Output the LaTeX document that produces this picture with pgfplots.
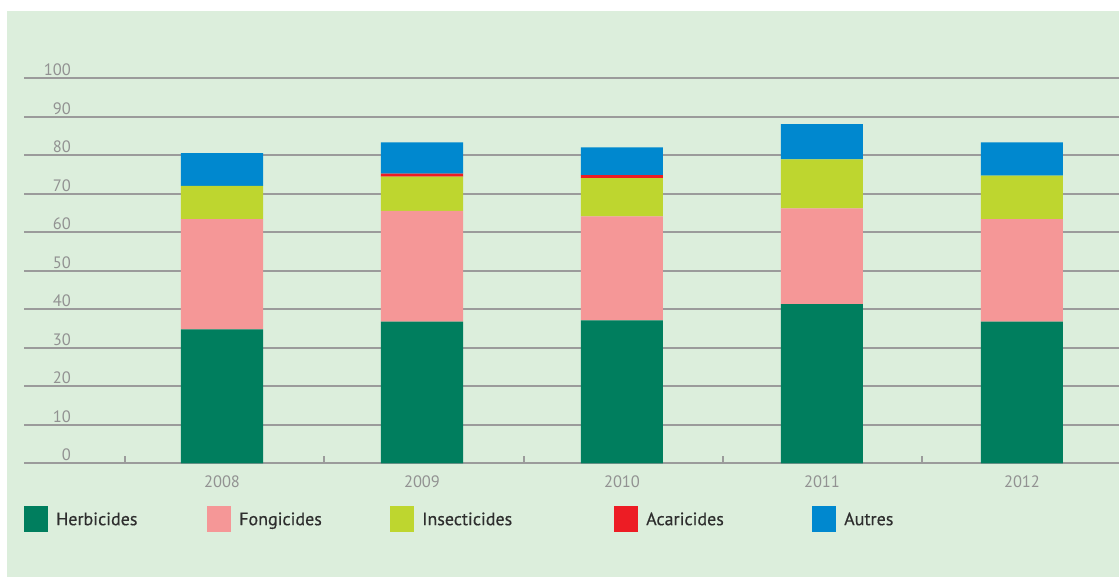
\documentclass[border=0pt]{standalone}
\usepackage{pgfplots}
\pgfplotsset{compat=1.18}
\usepackage{fontspec}
\setmainfont{PT Sans}
\newfontfamily\legfont{PT Sans}[FakeBold=0.4]
\definecolor{bg}{HTML}{DCEEDC}
\definecolor{gridc}{HTML}{9B9B9B}
\definecolor{lblc}{HTML}{929292}
\definecolor{txtc}{HTML}{2E2E2E}
\definecolor{herb}{HTML}{007E5E}
\definecolor{fong}{HTML}{F59797}
\definecolor{insc}{HTML}{BED62F}
\definecolor{acar}{HTML}{ED1C24}
\definecolor{autr}{HTML}{0088CF}
\begin{document}
\begin{tikzpicture}
\fill[bg] (-17pt,-113.6pt) rectangle (1095pt,452.4pt);
\begin{axis}[
  scale only axis,
  width=1095pt, height=385.4pt,
  xmin=-0.99, xmax=4.485,
  ymin=0, ymax=100,
  ybar stacked,
  bar width=82pt,
  axis line style={draw=none},
  ytick={0,10,...,100},
  ymajorgrids,
  grid style={gridc, line width=2pt},
  major tick length=0pt,
  xtick={0,1,2,3,4},
  xticklabels={2008,2009,2010,2011,2012},
  minor xtick={-0.485,0.51,1.51,2.505,3.5},
  minor tick length=7pt,
  tick align=inside,
  xtick pos=bottom,
  ytick pos=left,
  minor tick style={gridc, line width=1.6pt},
  /pgf/number format/assume math mode=true,
  /pgf/number format/1000 sep={},
  yticklabel style={anchor=base east, inner sep=0pt, xshift=47pt, yshift=2.5pt, font=\fontsize{16.5}{18}\selectfont, text=lblc},
  xticklabel style={anchor=base, inner sep=0pt, yshift=-24.3pt, font=\fontsize{16.5}{18}\selectfont, text=lblc},
  legend columns=5,
  legend style={at={(0,0)}, anchor=north west, yshift=-42.6pt, draw=none, fill=none, inner sep=0pt,
    nodes={inner sep=0pt, anchor=base west, text=txtc, font=\legfont\fontsize{18}{20}\selectfont},
    /tikz/every odd column/.append style={column sep=8pt},
    /tikz/every even column/.append style={column sep=0pt}},
  legend image code/.code={\fill[#1] (0pt,-7pt) rectangle (24pt,19pt);},
]
\addplot[fill=herb, draw=none] coordinates {(0,34.8) (1,36.8) (2,37.1) (3,41.3) (4,36.8)};
\addplot[fill=fong, draw=none] coordinates {(0,28.6) (1,28.7) (2,27.0) (3,24.9) (4,26.6)};
\addplot[fill=insc, draw=none] coordinates {(0,8.6) (1,8.9) (2,9.9) (3,12.7) (4,11.3)};
\addplot[fill=acar, draw=none] coordinates {(0,0) (1,0.8) (2,0.8) (3,0) (4,0)};
\addplot[fill=autr, draw=none] coordinates {(0,8.5) (1,8.1) (2,7.2) (3,9.1) (4,8.6)};
\legend{\makebox[151pt][l]{Herbicides},\makebox[151pt][l]{Fongicides},\makebox[192pt][l]{Insecticides},\makebox[166pt][l]{Acaricides},Autres}
\end{axis}
\pgfresetboundingbox
\path (-24pt,-113.6pt) rectangle (1095pt,463.4pt);
\end{tikzpicture}
\end{document}
